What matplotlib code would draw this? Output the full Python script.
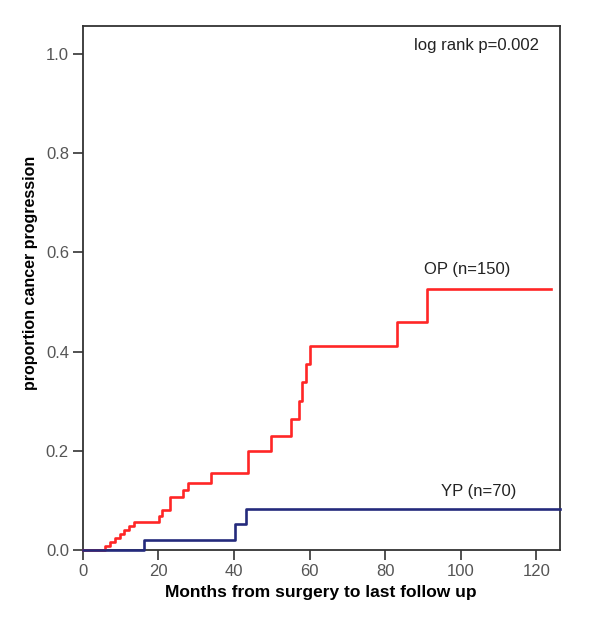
import numpy as np
import matplotlib.pyplot as plt

plt.rcParams['font.family'] = ['Liberation Sans', 'DejaVu Sans']

# step data (month of event, cumulative proportion)
op_months = [0, 6.0, 7.2, 8.5, 9.8, 11.0, 12.3, 13.5, 20.2, 21.0, 23.2, 26.6, 27.9,
             34.0, 43.8, 49.9, 55.0, 57.1, 58.0, 59.0, 60.0, 83.0, 91.0, 124.0]
op_values = [0, 0.008, 0.016, 0.024, 0.032, 0.040, 0.048, 0.056, 0.069, 0.082, 0.107,
             0.121, 0.136, 0.155, 0.200, 0.230, 0.265, 0.301, 0.338, 0.375, 0.412,
             0.460, 0.527, 0.527]

yp_months = [0, 16.1, 40.2, 43.1, 126.2]
yp_values = [0, 0.020, 0.052, 0.084, 0.084]

col_op = '#ff2626'
col_yp = '#242a7c'
lw = 1.9

fig = plt.figure(figsize=(6.0, 6.31), dpi=100)
ax = fig.add_axes([0.138, 0.128, 0.795, 0.831])

ax.step(op_months, op_values, where='post', color=col_op, lw=lw, zorder=3, clip_on=False)
ax.step(yp_months, yp_values, where='post', color=col_yp, lw=lw, zorder=4, clip_on=False)

ax.set_xlim(0, 126.2)
ax.set_ylim(0, 1.056)
ax.set_xticks([0, 20, 40, 60, 80, 100, 120])
ax.set_yticks([0.0, 0.2, 0.4, 0.6, 0.8, 1.0])
ax.set_yticklabels(['0.0', '0.2', '0.4', '0.6', '0.8', '1.0'])

ax.tick_params(direction='out', length=7, width=1.2, color='#333333',
               labelsize=12, labelcolor='#555555', pad=3)
for s in ax.spines.values():
    s.set_linewidth(1.3)
    s.set_color('#333333')
    s.set_zorder(2)

ax.set_xlabel('Months from surgery to last follow up', fontsize=12.5,
              fontweight='bold', labelpad=4)
ax.set_ylabel('proportion cancer progression', fontsize=11.5,
              fontweight='bold')
ax.yaxis.set_label_coords(-0.094, 0.529)

ax.text(87.5, 1.017, 'log rank p=0.002', fontsize=12, color='#222222', va='center')
ax.text(90.2, 0.5645, 'OP (n=150)', fontsize=12, color='#222222', va='center')
ax.text(94.7, 0.119, 'YP (n=70)', fontsize=12, color='#222222', va='center')

fig.savefig('out.png', dpi=100)
